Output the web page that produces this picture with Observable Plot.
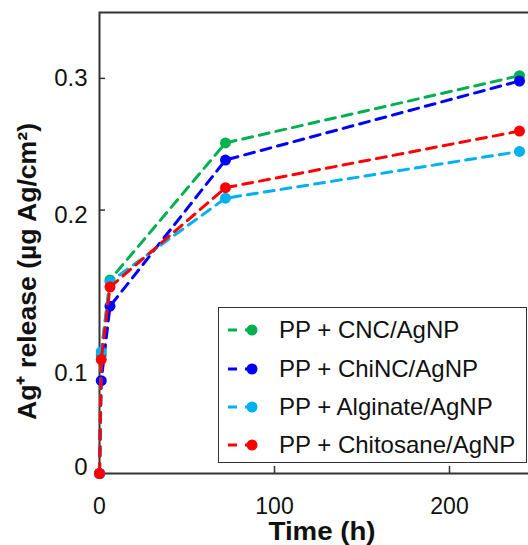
<!DOCTYPE html>
<html><head><meta charset="utf-8">
<script src="https://cdn.jsdelivr.net/npm/d3@7"></script>
<script src="https://cdn.jsdelivr.net/npm/@observablehq/plot@0.6"></script>
<style>
body{margin:0;background:#fff;}
#wrap{position:relative;width:528px;height:545px;overflow:hidden;font-family:"Liberation Sans",Arial,sans-serif;color:#111;}
#wrap > svg{max-width:none !important;display:block;}
#legend{position:absolute;left:218px;top:307px;width:309px;height:156px;border:1.5px solid #333;background:#fff;box-sizing:border-box;}
.row{position:absolute;left:0;height:30px;display:flex;align-items:center;font-size:24px;white-space:nowrap;}
.row svg{margin-left:9px;margin-right:20px;}
</style></head><body><div id="wrap"></div>
<script>
const times = [0, 1, 6, 72, 240];
const seriesNames = ["PP + CNC/AgNP", "PP + ChiNC/AgNP", "PP + Alginate/AgNP", "PP + Chitosane/AgNP"];
const seriesColors = ["#00b050", "#0000ff", "#00b0f0", "#ff0000"];
const cncRelease = [0, 0.090, 0.147, 0.251, 0.302];
const chincRelease = [0, 0.0705, 0.127, 0.238, 0.298];
const alginateRelease = [0, 0.0925, 0.1455, 0.209, 0.2445];
const chitosaneRelease = [0, 0.0865, 0.1415, 0.217, 0.260];
const xTicks = [0, 100, 200];
const yTicksMarked = [0.2, 0.3];
const yLabel = "Ag⁺ release (µg Ag/cm²)";
const xLabel = "Time (h)";

const seriesValues = [cncRelease, chincRelease, alginateRelease, chitosaneRelease];
const rows = seriesValues.flatMap((vals, s) => vals.map((v, i) => ({series: seriesNames[s], time: times[i], release: v})));

const fmt = d => String(d);
const lab = {tickSize: 0, tickPadding: 12, fontSize: 24, label: null, tickFormat: fmt};
const chart = Plot.plot({
  width: 554, height: 545,
  marginLeft: 99, marginRight: 0, marginTop: 12, marginBottom: 72,
  style: {fontFamily: "'Liberation Sans', Arial, sans-serif", color: "#111", background: "#fff", maxWidth: "none"},
  x: {domain: [0, 260]},
  y: {domain: [0, 0.35]},
  color: {domain: seriesNames, range: seriesColors},
  marks: [
    Plot.frame({stroke: "#333", strokeWidth: 2}),
    Plot.axisY(yTicksMarked, {tickSize: -6, tickPadding: 0, stroke: "#333", strokeWidth: 1.5, label: null, tickFormat: () => ""}),
    Plot.axisY([0.3], {...lab}),
    Plot.axisY([0.2], {...lab, dy: 5}),
    Plot.axisY([0.1], {...lab, dy: 32}),
    Plot.axisY([0], {...lab, dy: -6}),
    Plot.axisX(xTicks, {tickSize: -7, tickPadding: 31, fontSize: 23, stroke: "#333", strokeWidth: 1.5, label: null, tickFormat: fmt}),
    Plot.text([yLabel], {frameAnchor: "left", textAnchor: "middle", lineAnchor: "middle", rotate: -90, dx: -72, dy: 28.5, fontSize: 26, fontWeight: "bold", fill: "#111"}),
    Plot.text([xLabel], {frameAnchor: "bottom", textAnchor: "middle", lineAnchor: "middle", dx: -5, dy: 58, fontSize: 26, fontWeight: "bold", fill: "#111"}),
    ...seriesNames.flatMap(name => {
      const d = rows.filter(r => r.series === name);
      return [
        Plot.line(d, {x: "time", y: "release", stroke: "series", strokeWidth: 3, strokeDasharray: "10,7"}),
        Plot.dot(d, {x: "time", y: "release", fill: "series", r: 5.5})
      ];
    })
  ]
});
chart.style.maxWidth = "none";
d3.select(chart).selectAll("text").filter(function() { return this.textContent === yLabel; })
  .attr("textLength", 297).attr("lengthAdjust", "spacingAndGlyphs");
d3.select(chart).selectAll("text").filter(function() { return this.textContent === xLabel; })
  .attr("textLength", 107).attr("lengthAdjust", "spacingAndGlyphs");
const wrap = document.getElementById("wrap");
wrap.appendChild(chart);

const legend = document.createElement("div");
legend.id = "legend";
const rowCenters = [22, 61, 99, 137];
seriesNames.forEach((name, i) => {
  const row = document.createElement("div");
  row.className = "row";
  row.style.top = (rowCenters[i] - 15) + "px";
  const c = seriesColors[i];
  row.innerHTML = `<svg width="31" height="16"><line x1="0" y1="8" x2="31" y2="8" stroke="${c}" stroke-width="3" stroke-dasharray="9,8"/><circle cx="24" cy="8" r="5.5" fill="${c}"/></svg><span>${name}</span>`;
  legend.appendChild(row);
});
wrap.appendChild(legend);
</script></body></html>
